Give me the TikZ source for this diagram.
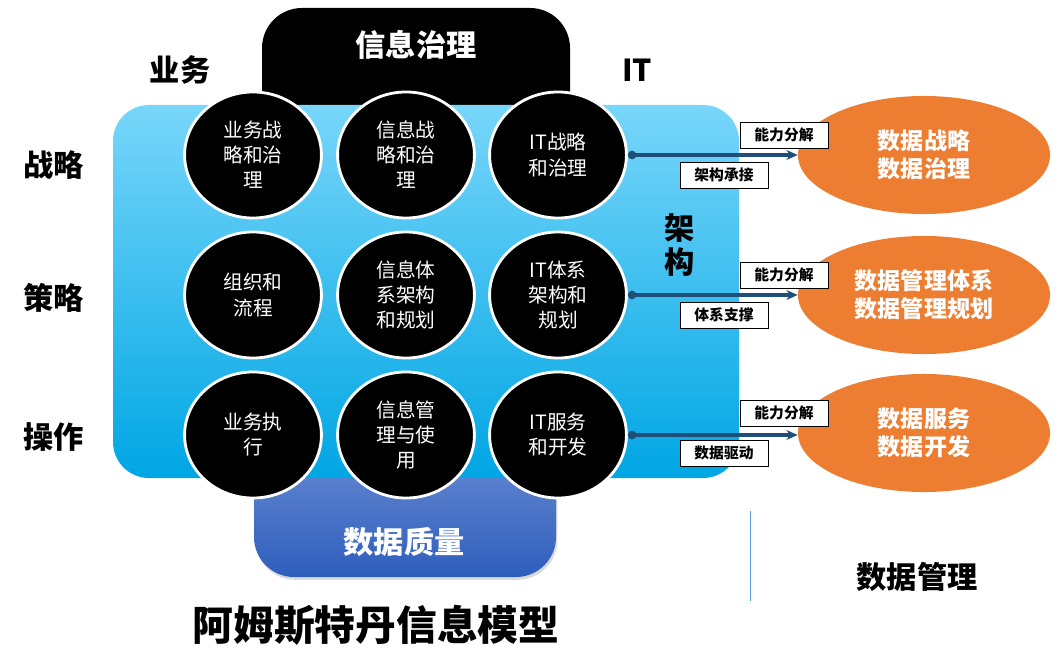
\documentclass[tikz,border=0pt]{standalone}
\usepackage{fontspec}
\setmainfont{Noto Sans CJK SC}
\usetikzlibrary{arrows.meta, positioning, shapes.geometric, shadows}

\definecolor{skyTop}{RGB}{120,214,250}
\definecolor{skyMid}{RGB}{30,180,236}
\definecolor{skyBot}{RGB}{0,166,228}
\definecolor{dqTop}{RGB}{106,140,212}
\definecolor{dqBot}{RGB}{46,94,188}
\definecolor{dmOrange}{RGB}{237,125,49}
\definecolor{arrowBlue}{RGB}{31,78,121}
\definecolor{sepBlue}{RGB}{91,155,213}

\begin{document}
\begin{tikzpicture}[x=0.025cm, y=-0.025cm, >=Stealth,
  hd/.style={font=\fontsize{21.5}{24}\selectfont\bfseries},
  cell/.style={ellipse, draw=white, fill=black, line width=2pt, text=white,
               minimum width=3.42cm, minimum height=3.15cm, inner sep=0pt,
               align=center, font=\fontsize{14}{17.8}\selectfont},
  goal/.style={ellipse, fill=dmOrange, text=white, inner sep=0pt,
               minimum width=6.3cm, minimum height=2.95cm, align=center,
               font=\fontsize{16.4}{20}\selectfont\bfseries},
  tag/.style={draw=black, fill=white, line width=0.6pt, inner sep=0pt,
              minimum width=2.2cm, minimum height=0.65cm,
              font=\fontsize{10.5}{12}\selectfont\bfseries},
  conn/.style={draw=arrowBlue, line width=2.2pt,
               {Circle[length=6pt]}-{Stealth[length=8pt,width=7pt]}}]
\useasboundingbox (0,0) rectangle (1063,656);

% cap and base, partly hidden behind the panel
\fill[black, rounded corners=1cm] (262,120) -- (262,8) -- (570,8) -- (570,120);
\shade[top color=dqTop, bottom color=dqBot, rounded corners=1cm,
       drop shadow={shadow xshift=1pt, shadow yshift=-2pt, opacity=0.3}]
  (254,440) -- (254,577) -- (556,577) -- (556,440);
\shade[top color=skyTop, middle color=skyMid, bottom color=skyBot,
       rounded corners=0.9cm] (113,105) rectangle (739,478);

\node[hd, text=white] (gov) at (416,45) {信息治理};
\node[hd, text=white] (dq) at (404,542) {数据质量};
\node[hd] (biz) at (180,70) {业务};
\node[hd] (it) at (637,70) {IT};
\node[hd, align=center] (arch) at (680,245) {架\\构};
\foreach \r/\y/\t in {1/165/战略, 2/298/策略, 3/437/操作}
  \node[hd] (row\r) at (54,\y) {\t};

% nine cells
\foreach \n/\x/\y/\t in {%
    c11/253/155/{业务战\\略和治\\理}, c12/406/155/{信息战\\略和治\\理},
    c13/558/155/{IT战略\\和治理},
    c21/253/295/{组织和\\流程}, c22/406/295/{信息体\\系架构\\和规划},
    c23/558/295/{IT体系\\架构和\\规划},
    c31/253/435/{业务执\\行}, c32/406/435/{信息管\\理与使\\用},
    c33/558/435/{IT服务\\和开发}}
  \node[cell] (\n) at (\x,\y) {\t};

% data management side
\foreach \r/\y/\tb/\go in {%
    1/155/架构承接/{数据战略\\数据治理},
    2/295/体系支撑/{数据管理体系\\数据管理规划},
    3/433/数据驱动/{数据服务\\数据开发}}{
  \node[goal] (g\r) at (924,\y) {\go};
  \draw[conn] (c\r3.east) -- (c\r3.east -| g\r.west);
  \node[tag] (up\r) at (784,\y-20) {能力分解};
  \node[tag] (lo\r) at (724,\y+20) {\tb};
}

\coordinate (sepTop) at (750,511);
\coordinate (sepBot) at (750,601);
\draw[sepBlue, line width=0.6pt] (sepTop) -- (sepBot);
\node[hd] (dm) at (917,577) {数据管理};
\node[font=\fontsize{29}{32}\selectfont\bfseries] (title) at (376,625) {阿姆斯特丹信息模型};
\end{tikzpicture}
\end{document}
